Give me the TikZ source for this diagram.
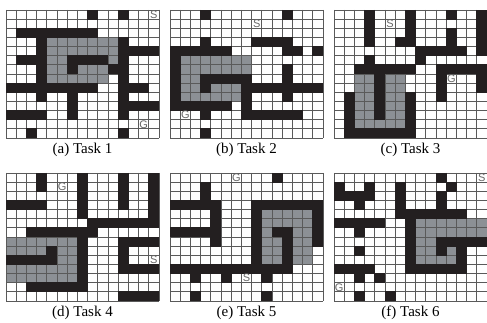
\documentclass[tikz,border=0pt]{standalone}
\usepackage{fontspec}
\setmainfont{Liberation Serif}
\newfontfamily\labelfont{Liberation Sans}
\usepackage{xcolor}
\usetikzlibrary{positioning}

\definecolor{wallgray}{HTML}{231F20}
\definecolor{pathgray}{HTML}{8C9095}
\definecolor{linegray}{HTML}{5A5A5A}

% one maze: #1 name, #2 left, #3 top, #4 rows (0 free, 1 wall, 2 shaded, 3 start, 4 goal)
\newcommand{\taskgrid}[4]{%
  \node[mazeframe] (#1) at ({#2+76.5},{#3+64}) {};
  \foreach \row [count=\r from 0] in {#4} {
    \foreach \v [count=\c from 0] in \row {
      \ifnum\v=2 \fill[pathcell] ({#2+\c*10.2},{#3+\r*9.1428}) rectangle ++(10.2,9.1428); \fi
    }
  }
  \foreach \i in {0,...,15} \draw[gridline] ({#2+\i*10.2},#3) -- ++(0,128);
  \foreach \j in {0,...,14} \draw[gridline] (#2,{#3+\j*9.1428}) -- ++(153,0);
  \foreach \row [count=\r from 0] in {#4} {
    \foreach \v [count=\c from 0] in \row {
      \ifnum\v=1 \fill[wallcell] ({#2+\c*10.2-0.45},{#3+\r*9.1428-0.45}) rectangle ++(11.1,10.0428); \fi
      \ifnum\v=3 \node[marker] (#1-S) at ({#2+(\c+0.5)*10.2},{#3+(\r+0.5)*9.1428}) {S}; \fi
      \ifnum\v=4 \node[marker] (#1-G) at ({#2+(\c+0.5)*10.2},{#3+(\r+0.5)*9.1428}) {G}; \fi
    }
  }
}

\begin{document}
\begin{tikzpicture}[x=1pt,y=-1pt,
    pathcell/.style={fill=pathgray},
    wallcell/.style={fill=wallgray},
    gridline/.style={draw=linegray,line width=0.9pt},
    mazeframe/.style={rectangle,fill=white,inner sep=0pt,minimum width=153pt,minimum height=128pt},
    caption/.style={inner sep=1pt,font=\fontsize{15}{15}\selectfont},
    marker/.style={inner sep=0pt,text=black!60,font=\labelfont\fontsize{11}{11}\selectfont}
]
\useasboundingbox (0,0) rectangle (487,323);

% Top row
\taskgrid{gridA}{6}{10}{
  {0,0,0,0,0,0,0,0,1,0,0,1,0,0,3},
  {0,0,0,0,0,0,0,0,0,0,0,0,0,0,0},
  {0,1,1,1,1,1,1,1,1,0,0,0,0,0,0},
  {0,0,0,1,2,2,2,2,2,2,2,1,0,0,0},
  {0,0,0,1,2,2,2,2,2,2,2,1,1,1,1},
  {0,1,1,1,2,2,1,1,1,1,2,1,0,0,0},
  {0,0,0,1,2,2,1,2,2,2,1,1,0,0,0},
  {0,0,0,1,2,2,2,2,2,2,0,1,0,0,0},
  {1,1,1,1,1,1,1,1,1,0,0,1,1,1,0},
  {0,0,0,1,0,0,1,0,0,0,0,1,0,0,0},
  {0,0,0,0,0,0,1,0,0,0,0,1,1,1,1},
  {1,1,1,1,0,0,1,0,0,0,0,1,0,0,0},
  {0,0,0,0,0,0,0,0,0,0,0,0,0,4,0},
  {0,0,1,0,0,0,0,0,0,0,0,1,0,0,0}}
\taskgrid{gridB}{170}{10}{
  {0,0,0,1,0,0,0,0,0,0,0,1,0,0,0},
  {0,0,0,0,0,0,0,0,3,0,0,0,0,0,0},
  {0,0,0,0,0,0,0,0,0,0,0,0,0,0,0},
  {0,0,0,1,0,0,0,0,1,1,1,1,0,0,0},
  {1,1,1,1,1,1,0,0,0,0,0,1,1,0,1},
  {1,2,2,2,2,2,2,2,0,0,0,0,0,0,0},
  {1,2,2,2,2,2,2,2,0,0,0,1,0,0,0},
  {1,2,2,1,1,1,1,1,0,0,0,1,0,0,0},
  {1,2,2,1,2,2,2,1,1,1,1,1,1,1,1},
  {1,2,2,2,2,2,2,1,0,0,0,1,0,0,0},
  {1,1,1,1,1,1,0,1,0,0,0,0,0,0,0},
  {0,4,0,1,0,0,0,1,1,1,1,1,1,0,0},
  {0,0,0,0,0,0,0,0,0,0,0,0,0,0,0},
  {0,0,0,1,0,0,0,0,0,0,0,0,0,0,0}}
\taskgrid{gridC}{334}{10}{
  {0,0,0,1,0,0,0,1,0,0,0,1,0,0,1},
  {0,0,0,1,0,3,0,1,0,0,0,0,0,0,1},
  {0,0,0,1,0,0,0,1,0,0,0,1,0,0,1},
  {0,0,0,1,0,0,1,1,0,0,0,1,0,0,1},
  {0,0,0,0,0,0,0,0,1,1,1,1,1,0,1},
  {0,0,0,1,0,0,0,0,1,0,0,0,0,0,0},
  {0,0,1,1,1,1,1,1,0,0,1,1,1,1,1},
  {0,0,2,2,1,2,2,0,0,0,1,4,0,0,1},
  {0,0,2,2,1,2,2,0,0,0,1,0,0,0,1},
  {0,1,2,2,1,2,2,1,0,0,1,0,0,0,0},
  {0,1,2,2,1,2,2,1,0,0,0,0,0,0,0},
  {0,1,2,2,1,2,2,1,0,0,0,0,0,0,0},
  {0,1,2,2,2,2,2,1,0,0,0,0,0,0,0},
  {0,1,1,1,1,1,1,1,0,0,0,0,0,0,0}}

% Bottom row
\taskgrid{gridD}{6}{173}{
  {0,0,0,1,0,0,0,1,0,0,0,1,0,0,1},
  {0,0,0,1,0,4,0,1,0,0,0,1,0,0,1},
  {0,0,0,0,0,0,0,1,0,0,0,1,0,0,1},
  {1,1,1,1,0,0,0,1,0,0,0,1,0,0,1},
  {0,0,0,0,0,0,0,1,0,0,0,0,0,0,1},
  {0,0,0,0,0,0,0,0,1,1,1,1,1,1,1},
  {0,0,1,1,1,1,1,1,1,0,0,0,0,0,0},
  {2,2,2,2,2,2,2,1,0,0,0,1,1,1,1},
  {2,2,2,2,1,2,2,1,0,0,0,1,0,0,0},
  {1,1,1,1,1,2,2,1,0,0,0,1,0,0,3},
  {2,2,2,2,2,2,2,1,0,0,0,1,1,1,1},
  {2,2,2,2,2,2,2,1,0,0,0,0,0,0,0},
  {0,0,1,1,1,1,1,1,0,0,0,0,0,0,0},
  {0,0,0,0,0,0,0,0,0,0,0,1,1,1,1}}
\taskgrid{gridE}{170}{173}{
  {0,0,0,0,0,0,4,0,0,0,1,0,0,0,0},
  {0,0,0,1,0,0,0,0,0,0,0,0,0,0,0},
  {0,0,0,1,0,0,0,0,0,0,0,0,0,0,0},
  {1,1,1,1,1,0,0,0,1,1,1,1,1,1,1},
  {0,0,0,0,1,0,0,0,1,2,2,2,2,2,1},
  {0,0,0,0,1,0,0,0,1,2,2,2,2,2,1},
  {1,1,1,1,1,0,0,0,1,2,1,1,2,2,1},
  {0,0,0,0,1,0,0,0,1,2,2,1,2,2,1},
  {0,0,0,0,0,0,0,0,1,2,2,1,2,2,0},
  {0,0,0,0,0,0,0,0,1,2,2,1,2,2,0},
  {1,1,1,1,1,1,1,1,1,1,1,1,0,0,0},
  {0,0,1,0,0,1,0,3,0,1,0,0,0,0,0},
  {0,0,0,0,0,0,0,0,0,0,0,0,0,0,0},
  {0,0,1,0,0,0,0,0,0,1,0,0,0,0,0}}
\taskgrid{gridF}{334}{173}{
  {0,0,0,0,0,0,0,0,0,0,1,0,0,0,3},
  {1,0,0,1,0,0,1,0,0,0,0,1,0,0,0},
  {1,1,1,1,0,0,1,0,0,0,1,0,0,0,0},
  {0,0,1,0,0,0,1,0,0,0,1,0,0,0,0},
  {0,0,0,0,0,0,1,1,1,1,1,1,1,0,0},
  {1,1,1,1,1,0,0,1,2,2,2,2,2,2,2},
  {0,0,1,0,0,0,0,1,2,2,2,2,2,2,2},
  {0,0,0,0,0,0,0,1,2,2,1,1,1,1,1},
  {0,0,1,0,0,0,0,1,2,2,1,2,1,0,0},
  {0,0,0,0,0,0,0,1,2,2,2,2,1,0,0},
  {1,1,1,1,0,0,0,1,1,1,1,1,1,0,0},
  {0,0,1,0,1,0,0,0,0,0,0,0,0,0,0},
  {4,0,0,0,0,0,0,0,0,0,0,0,0,0,0},
  {0,0,1,0,0,1,0,0,0,0,0,0,0,0,0}}

% Captions
\node[caption, below=4pt of gridA] (capA) {(a) Task 1};
\node[caption, below=4pt of gridB] (capB) {(b) Task 2};
\node[caption, below=4pt of gridC] (capC) {(c) Task 3};
\node[caption, below=4pt of gridD] (capD) {(d) Task 4};
\node[caption, below=4pt of gridE] (capE) {(e) Task 5};
\node[caption, below=4pt of gridF] (capF) {(f) Task 6};

\end{tikzpicture}
\end{document}
